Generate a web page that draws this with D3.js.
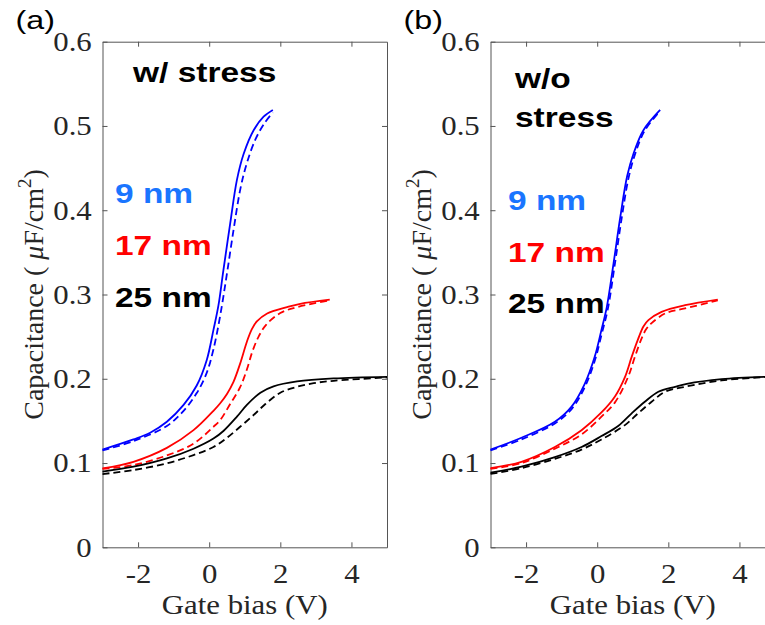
<!DOCTYPE html>
<html>
<head>
<meta charset="utf-8">
<script src="https://cdn.jsdelivr.net/npm/d3@7"></script>
<style>
  body { margin: 0; background: #fff; }
  .tick text { font-family: "Liberation Serif", "Times New Roman", serif; font-size: 28px; fill: #262626; }
  .tick line, .domain { stroke: #555; stroke-width: 1; }
</style>
</head>
<body>
<svg id="chart" width="765" height="625"></svg>
<script>
const xTicks = [-2, 0, 2, 4];
const yTicks = [0, 0.1, 0.2, 0.3, 0.4, 0.5, 0.6];
const panelTags = ["(a)", "(b)"];
const thickLabels = ["9 nm", "17 nm", "25 nm"];
const lineColors = ["#0000ff", "#ff0000", "#000000"];
const labelColors = ["#1a75ff", "#ff0000", "#000000"];

// (a) w/ stress : [gate bias V, capacitance uF/cm2]
const a9 = [[-3,0.116],[-2.13,0.128],[-1.66,0.136],[-1.19,0.149],[-0.72,0.169],[-0.35,0.192],[-0.07,0.222],[0.12,0.258],[0.26,0.287],[0.40,0.329],[0.59,0.384],[0.78,0.436],[0.97,0.467],[1.25,0.495],[1.53,0.511],[1.79,0.519]];
const a9d = [[-3,0.115],[-2.13,0.126],[-1.19,0.144],[-0.72,0.162],[-0.35,0.183],[-0.07,0.207],[0.12,0.235],[0.31,0.275],[0.50,0.325],[0.69,0.378],[0.88,0.426],[1.06,0.456],[1.30,0.484],[1.55,0.503],[1.79,0.516]];
const a17 = [[-3,0.0937],[-2.13,0.1015],[-1.19,0.118],[-0.44,0.139],[0.12,0.162],[0.31,0.171],[0.50,0.182],[0.68,0.196],[0.87,0.218],[1.06,0.244],[1.20,0.259],[1.34,0.268],[1.63,0.2775],[2.19,0.285],[2.56,0.289],[3.39,0.294]];
const a17d = [[-3,0.093],[-2.13,0.0976],[-1.19,0.109],[-0.44,0.123],[0.12,0.143],[0.31,0.151],[0.59,0.170],[0.87,0.190],[1.06,0.211],[1.22,0.233],[1.39,0.250],[1.60,0.264],[2.0,0.278],[2.47,0.285],[3.39,0.293]];
const a25 = [[-3,0.0897],[-2.13,0.0956],[-1.19,0.1055],[-0.44,0.117],[0.12,0.129],[0.40,0.138],[0.78,0.155],[1.06,0.169],[1.44,0.1835],[1.81,0.191],[2.47,0.1968],[3.5,0.2004],[5,0.2023]];
const a25d = [[-3,0.0869],[-2.13,0.0917],[-1.19,0.0996],[-0.44,0.1095],[0.12,0.119],[0.50,0.130],[0.87,0.143],[1.25,0.157],[1.58,0.170],[2.0,0.1834],[2.47,0.1905],[2.94,0.1948],[3.5,0.1976],[5,0.2016]];

// (b) w/o stress
const b9 = [[-3,0.116],[-2.13,0.130],[-1.19,0.149],[-0.72,0.167],[-0.35,0.194],[-0.07,0.226],[0.12,0.258],[0.27,0.285],[0.46,0.337],[0.65,0.392],[0.84,0.44],[1.02,0.467],[1.30,0.495],[1.77,0.519]];
const b9d = [[-3,0.115],[-2.13,0.128],[-1.19,0.147],[-0.72,0.164],[-0.35,0.190],[-0.07,0.221],[0.12,0.252],[0.30,0.283],[0.50,0.337],[0.69,0.391],[0.88,0.438],[1.06,0.466],[1.33,0.494],[1.77,0.518]];
const b17 = [[-3,0.094],[-2.13,0.1015],[-1.19,0.119],[-0.44,0.139],[0.12,0.160],[0.50,0.179],[0.78,0.202],[0.97,0.226],[1.15,0.247],[1.30,0.262],[1.44,0.2695],[1.81,0.2794],[2.47,0.2873],[3.39,0.294]];
const b17d = [[-3,0.093],[-2.13,0.100],[-1.19,0.117],[-0.44,0.134],[0.12,0.155],[0.50,0.172],[0.87,0.2023],[1.06,0.226],[1.25,0.248],[1.38,0.259],[1.53,0.266],[1.91,0.2775],[2.47,0.2834],[3.39,0.293]];
const b25 = [[-3,0.0885],[-2.13,0.0956],[-1.19,0.107],[-0.44,0.119],[0.12,0.132],[0.59,0.144],[0.97,0.159],[1.34,0.1727],[1.72,0.1846],[2.19,0.1905],[2.52,0.194],[3.5,0.1996],[4.72,0.2023],[5,0.2025]];
const b25d = [[-3,0.087],[-2.13,0.094],[-1.19,0.105],[-0.44,0.116],[0.12,0.128],[0.78,0.145],[1.15,0.159],[1.53,0.1727],[1.91,0.1846],[2.47,0.1905],[3.5,0.198],[4.72,0.202],[5,0.2023]];

const panels = [
  { left: 102.5, tag: panelTags[0], title: ["w/ stress"], titleX: 133, titleY: [82],
    labelX: 115, labelY: [203, 255, 307],
    series: [[a9, a9d], [a17, a17d], [a25, a25d]] },
  { left: 490.5, tag: panelTags[1], title: ["w/o", "stress"], titleX: 515, titleY: [88, 127],
    labelX: 508, labelY: [210, 262, 313],
    series: [[b9, b9d], [b17, b17d], [b25, b25d]] }
];

const svg = d3.select("#chart");
const plotW = 284.5, plotTop = 41.7, plotBottom = 547.3;
const serifScale = 1.1, sansScale = 1.24;

panels.forEach(p => {
  const g = svg.append("g");
  const x = d3.scaleLinear().domain([-3, 5]).range([p.left, p.left + plotW]);
  const y = d3.scaleLinear().domain([0, 0.6]).range([plotBottom, plotTop]);

  // axes, ticks pointing inward
  g.append("g").attr("transform", `translate(0,${plotBottom})`)
    .call(d3.axisBottom(x).tickValues(xTicks).tickSizeInner(-5).tickSizeOuter(0).tickPadding(16)
      .tickFormat(d => String(d)))
    .selectAll("text").attr("transform", `scale(${serifScale},1)`);
  g.append("g").attr("transform", `translate(${p.left},0)`)
    .call(d3.axisLeft(y).tickValues(yTicks).tickSizeInner(-5).tickSizeOuter(0).tickPadding(9.8)
      .tickFormat(d => d === 0 ? "0" : d.toFixed(1)))
    .selectAll("text").attr("transform", `scale(${serifScale},1)`);
  g.append("g").attr("transform", `translate(0,${plotTop})`)
    .call(d3.axisTop(x).tickValues(xTicks).tickSizeInner(-5).tickSizeOuter(0).tickFormat(""));
  g.append("g").attr("transform", `translate(${p.left + plotW},0)`)
    .call(d3.axisRight(y).tickValues(yTicks.slice(1, -1)).tickSizeInner(-5).tickSizeOuter(0).tickFormat(""));
  g.selectAll(".domain").attr("fill", "none");

  // curves
  const line = d3.line().x(d => x(d[0])).y(d => y(d[1])).curve(d3.curveCatmullRom.alpha(0.5));
  p.series.forEach((pair, i) => {
    g.append("path").datum(pair[0]).attr("d", line)
      .attr("fill", "none").attr("stroke", lineColors[i]).attr("stroke-width", 1.8);
    g.append("path").datum(pair[1]).attr("d", line)
      .attr("fill", "none").attr("stroke", lineColors[i]).attr("stroke-width", 1.8)
      .attr("stroke-dasharray", "7,4");
  });

  // axis titles
  g.append("text")
    .attr("transform", `translate(${p.left + plotW / 2},614) scale(${serifScale},1)`)
    .attr("text-anchor", "middle")
    .style("font-family", "'Liberation Serif', 'Times New Roman', serif")
    .style("font-size", "28px").attr("fill", "#262626")
    .text("Gate bias (V)");

  const yl = g.append("text")
    .attr("transform", `translate(${p.left - 60},${(plotTop + plotBottom) / 2}) rotate(-90)`)
    .attr("text-anchor", "middle")
    .style("font-family", "'Liberation Serif', 'Times New Roman', serif")
    .style("font-size", "28px").attr("fill", "#262626");
  yl.append("tspan").text("Capacitance ( ");
  yl.append("tspan").style("font-style", "italic").text("\u03bc");
  yl.append("tspan").text("F/cm");
  yl.append("tspan").style("font-size", "19px").attr("dy", -12).text("2");
  yl.append("tspan").attr("dy", 12).text(")");

  // panel tag and annotations
  const sans = "'Liberation Sans', Arial, sans-serif";
  g.append("text")
    .attr("transform", `translate(${p.left - 87},29) scale(${sansScale},1)`)
    .style("font-family", sans).style("font-size", "26px").attr("fill", "#000")
    .text(p.tag);
  p.title.forEach((t, i) => {
    g.append("text")
      .attr("transform", `translate(${p.titleX},${p.titleY[i]}) scale(${sansScale},1)`)
      .style("font-family", sans).style("font-size", "27px").style("font-weight", "bold")
      .attr("fill", "#000").text(t);
  });
  thickLabels.forEach((t, i) => {
    g.append("text")
      .attr("transform", `translate(${p.labelX},${p.labelY[i]}) scale(${sansScale},1)`)
      .style("font-family", sans).style("font-size", "27px").style("font-weight", "bold")
      .attr("fill", labelColors[i]).text(t);
  });
});
</script>
</body>
</html>
